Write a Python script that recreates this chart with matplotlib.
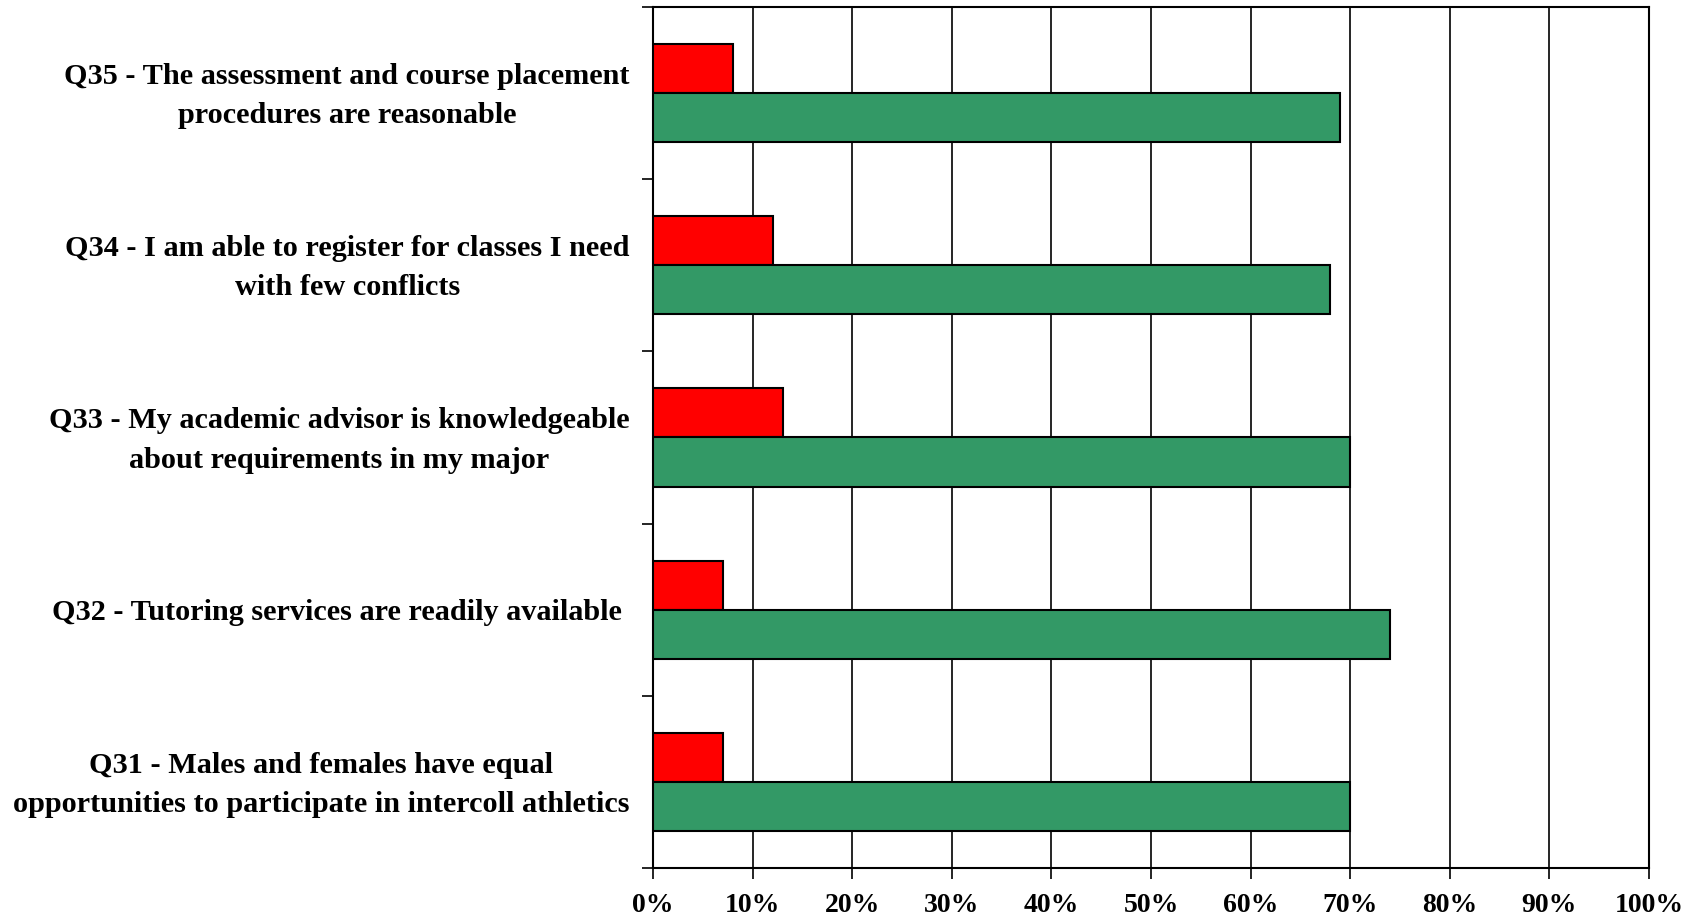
import numpy as np
import matplotlib
matplotlib.use("Agg")
import matplotlib.pyplot as plt
from matplotlib import ticker
from matplotlib.transforms import ScaledTranslation

# survey items, bottom to top
questions = [
    "Q31 - Males and females have equal\nopportunities to participate in intercoll athletics",
    "Q32 - Tutoring services are readily available ",
    "Q33 - My academic advisor is knowledgeable\nabout requirements in my major",
    "Q34 - I am able to register for classes I need\nwith few conflicts",
    "Q35 - The assessment and course placement\nprocedures are reasonable",
]
disagree = [7, 7, 13, 12, 8]
agree = [70, 74, 70, 68, 69]

plt.rcParams['font.family'] = ['Liberation Serif', 'DejaVu Serif']

fig = plt.figure(figsize=(16.92, 9.22), dpi=100)
ax = fig.add_axes([0.386, 0.0586, 0.5886, 0.9338])

y = np.arange(len(questions))
h = 0.285
ax.barh(y + h / 2, disagree, height=h, color='#FF0000', edgecolor='black', linewidth=1.5, zorder=3)
ax.barh(y - h / 2, agree, height=h, color='#339966', edgecolor='black', linewidth=1.5, zorder=3)

ax.set_xlim(0, 100)
ax.set_ylim(-0.5, len(questions) - 0.5)
ax.xaxis.set_major_locator(ticker.MultipleLocator(10))
ax.xaxis.set_major_formatter(ticker.FuncFormatter(lambda v, p: f"{int(v)}%"))
ax.grid(axis='x', color='black', linewidth=1.2, zorder=0)

# boundary ticks on the y axis, labels centred on each group
ax.set_yticks(np.arange(-0.5, len(questions), 1.0))
ax.set_yticklabels([])
ax.set_yticks(y, minor=True)
ax.set_yticklabels(questions, minor=True, fontsize=21.8, fontweight='bold',
                   ha='right', va='center', multialignment='center',
                   linespacing=1.58)
ax.tick_params(axis='y', which='minor', length=0, pad=17)
ax.tick_params(axis='y', which='major', length=8, width=1.2, direction='out')
ax.tick_params(axis='x', length=8, width=1.2, direction='out', pad=10,
               labelsize=20)
for lab in ax.get_xticklabels():
    lab.set_fontweight('bold')

# nudge the question labels down a little
shift = ScaledTranslation(0, -3 / 100, fig.dpi_scale_trans)
for lab in ax.get_yticklabels(minor=True):
    lab.set_transform(lab.get_transform() + shift)

for s in ax.spines.values():
    s.set_linewidth(1.5)

fig.savefig("out.png", dpi=100)
